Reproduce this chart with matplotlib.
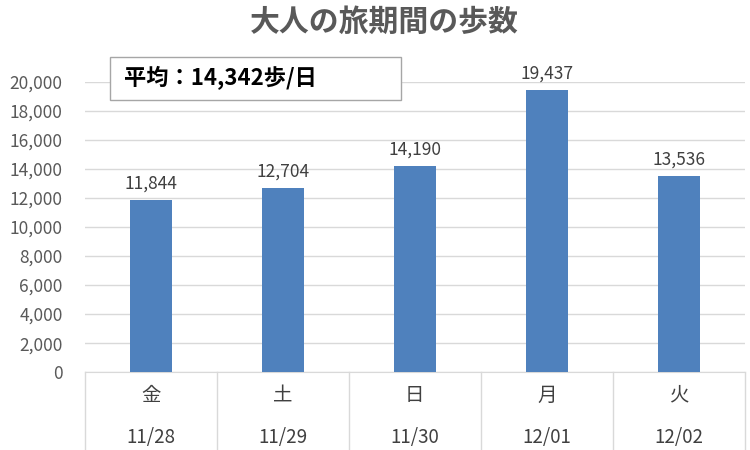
import matplotlib.pyplot as plt
import matplotlib.transforms as mtransforms

plt.rcParams['font.family'] = ['Noto Sans CJK JP', 'DejaVu Sans']

days = ['金', '土', '日', '月', '火']
dates = ['11/28', '11/29', '11/30', '12/01', '12/02']
steps = [11844, 12704, 14190, 19437, 13536]
yticks = list(range(0, 20001, 2000))

fig = plt.figure(figsize=(7.5, 4.5), dpi=100)
ax = fig.add_axes([0.113, 0.173, 0.88, 0.645])

x = list(range(len(steps)))
bars = ax.bar(x, steps, width=0.32, color='#4F81BD', zorder=3)

for xi, v in zip(x, steps):
    ax.text(xi, v + 500, f'{v:,}', ha='center', va='bottom', fontsize=12.5,
            color='#404040', clip_on=False)

ax.set_xlim(-0.5, len(steps) - 0.5)
ax.set_ylim(0, 20000)
ax.set_yticks(yticks)
ax.set_yticklabels([f'{t:,}' for t in yticks], fontsize=12.5, color='#595959')
ax.yaxis.grid(True, color='#D9D9D9', linewidth=1, zorder=0)
ax.tick_params(axis='y', length=0, pad=16)
ax.set_xticks([])
for s in ['top', 'right', 'left']:
    ax.spines[s].set_visible(False)
ax.spines['bottom'].set_color('#D9D9D9')

# two-level category axis
trans = mtransforms.blended_transform_factory(ax.transData, ax.transAxes)
for xi, d, dt in zip(x, days, dates):
    ax.text(xi, -0.079, d, transform=trans, ha='center', va='center',
            fontsize=14, color='#404040')
    ax.text(xi, -0.224, dt, transform=trans, ha='center', va='center',
            fontsize=13.5, color='#404040')
for b in [i - 0.5 for i in range(len(steps) + 1)]:
    ax.plot([b, b], [0, -0.3], transform=trans, color='#D9D9D9',
            linewidth=1, clip_on=False)

fig.text(0.513, 0.952, '大人の旅期間の歩数', ha='center', va='center',
         fontsize=21.5, fontweight='bold', color='#595959')

fig.text(0.165, 0.827, '平均：14,342歩/日', ha='left', va='center',
         fontsize=16, fontweight='bold', color='black')
box = plt.Rectangle((0.147, 0.778), 0.387, 0.095, transform=fig.transFigure,
                    facecolor='white', edgecolor='#A6A6A6', linewidth=1, zorder=5)
fig.add_artist(box)
fig.texts[-1].set_zorder(6)

fig.savefig('out.png')
